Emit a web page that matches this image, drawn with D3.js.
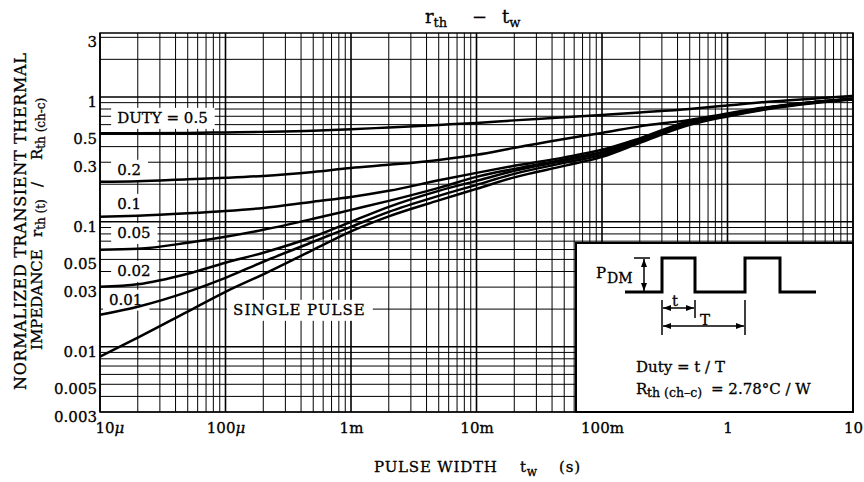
<!DOCTYPE html>
<html>
<head>
<meta charset="utf-8">
<script src="https://cdn.jsdelivr.net/npm/d3@7"></script>
<style>
  body { margin: 0; background: #fff; }
  svg { display: block; font-family: "DejaVu Serif", "Liberation Serif", serif; }
  svg text { stroke: #000; stroke-width: 0.3px; }
</style>
</head>
<body>
<svg id="chart" width="864" height="482"></svg>
<script>
// pulse width t_w (s)
const pulseWidth = [1e-5, 2e-5, 5e-5, 1e-4, 2e-4, 5e-4, 1e-3, 2e-3, 5e-3, 1e-2, 2e-2, 5e-2, 0.1, 0.2, 0.5, 1, 2, 5, 10];

// normalized transient thermal impedance, one array per duty
const rthDuty05  = [0.511, 0.512, 0.515, 0.520, 0.525, 0.535, 0.550, 0.570, 0.597, 0.619, 0.649, 0.686, 0.718, 0.752, 0.802, 0.855, 0.912, 0.973, 1.02];
const rthDuty02  = [0.209, 0.211, 0.219, 0.225, 0.233, 0.251, 0.270, 0.286, 0.313, 0.344, 0.391, 0.461, 0.515, 0.581, 0.655, 0.738, 0.824, 0.912, 0.964];
const rthDuty01  = [0.110, 0.112, 0.117, 0.122, 0.129, 0.145, 0.158, 0.177, 0.2148, 0.2466, 0.281, 0.328, 0.377, 0.466, 0.643, 0.724, 0.817, 0.912, 0.964];
const rthDuty005 = [0.0597, 0.0608, 0.068, 0.0759, 0.0863, 0.1057, 0.1247, 0.1472, 0.1871, 0.2291, 0.2655, 0.3162, 0.3631, 0.4571, 0.6252, 0.7178, 0.8166, 0.912, 0.964];
const rthDuty002 = [0.0302, 0.0316, 0.0384, 0.047, 0.0565, 0.0759, 0.100, 0.1318, 0.1770, 0.2128, 0.2559, 0.3076, 0.3565, 0.4487, 0.6138, 0.7112, 0.8091, 0.912, 0.964];
const rthDuty001 = [0.018, 0.0209, 0.0275, 0.0356, 0.0479, 0.0692, 0.0912, 0.1202, 0.1614, 0.1977, 0.2421, 0.2965, 0.3436, 0.4406, 0.6081, 0.7047, 0.8017, 0.9036, 0.964];
const rthSingle  = [0.00832, 0.0118, 0.0191, 0.0275, 0.038, 0.0597, 0.0839, 0.1107, 0.1486, 0.1837, 0.2270, 0.2805, 0.3311, 0.4285, 0.597, 0.6982, 0.7943, 0.8954, 0.955];

const curveLabels = ['DUTY = 0.5', '0.2', '0.1', '0.05', '0.02', '0.01', 'SINGLE PULSE'];

const xTicks = [1e-5, 1e-4, 1e-3, 1e-2, 1e-1, 1, 10];
const xTickLabels = ['10μ', '100μ', '1m', '10m', '100m', '1', '10'];
const yTicks = [3, 1, 0.5, 0.3, 0.1, 0.05, 0.03, 0.01, 0.005, 0.003];
const yTickLabels = ['3', '1', '0.5', '0.3', '0.1', '0.05', '0.03', '0.01', '0.005', '0.003'];

const svg = d3.select('#chart');

const x = d3.scaleLog().domain([1e-5, 10]).range([100, 853]);
const y = d3.scaleLog().domain([0.003, 3.25]).range([412, 33]);

const isDecade = d => Math.abs(Math.log10(d) - Math.round(Math.log10(d))) < 1e-6;

// grid
const grid = svg.append('g').attr('stroke', '#000');
grid.selectAll('line.v')
    .data(x.ticks())
    .join('line')
    .attr('class', 'v')
    .attr('x1', d => x(d)).attr('x2', d => x(d))
    .attr('y1', y.range()[0]).attr('y2', y.range()[1])
    .attr('stroke-width', d => isDecade(d) ? 1.6 : 1);
grid.selectAll('line.h')
    .data(y.ticks())
    .join('line')
    .attr('class', 'h')
    .attr('y1', d => y(d)).attr('y2', d => y(d))
    .attr('x1', x.range()[0]).attr('x2', x.range()[1])
    .attr('stroke-width', d => isDecade(d) ? 1.6 : 1);

// axes (labels only)
const xAxis = svg.append('g')
    .attr('transform', `translate(0,${y.range()[0]})`)
    .call(d3.axisBottom(x).tickValues(xTicks).tickFormat((d, i) => xTickLabels[i]).tickSize(0).tickPadding(10));
xAxis.select('.domain').remove();
xAxis.attr('font-size', 15).attr('font-family', null);
xAxis.selectAll('text').each(function(d, i) {
    const s = xTickLabels[i];
    if (s.endsWith('μ')) {
        const t = d3.select(this).text(s.slice(0, -1));
        t.append('tspan').attr('font-style', 'italic').text('μ');
    }
});
xAxis.select('.tick text').attr('text-anchor', 'start').attr('dx', -5);

const yAxis = svg.append('g')
    .attr('transform', `translate(${x.range()[0]},0)`)
    .call(d3.axisLeft(y).tickValues(yTicks).tickFormat((d, i) => yTickLabels[i]).tickSize(0).tickPadding(3));
yAxis.select('.domain').remove();
yAxis.attr('font-size', 15).attr('font-family', null);
yAxis.selectAll('text').attr('dy', '0.62em');

// curve labels with white backing
const labelPos = [[1.37e-5, 0.62], [1.37e-5, 0.238], [1.37e-5, 0.127], [1.37e-5, 0.0743], [1.37e-5, 0.0369], [1.18e-5, 0.0217], [1.15e-4, 0.018]];
const labels = svg.append('g').attr('font-size', 15);
curveLabels.forEach((s, i) => {
    const g = labels.append('g');
    const t = g.append('text')
        .attr('x', x(labelPos[i][0]))
        .attr('y', y(labelPos[i][1]))
        .attr('letter-spacing', i === 6 ? 1 : 0)
        .style('white-space', 'pre')
        .text(s);
    const bb = t.node().getBBox();
    g.insert('rect', 'text')
        .attr('x', bb.x - 6).attr('y', bb.y - 1)
        .attr('width', bb.width + 13).attr('height', bb.height + 3)
        .attr('fill', '#fff');
});

// curves
const line = d3.line()
    .x((d, i) => x(pulseWidth[i]))
    .y(d => y(d))
    .curve(d3.curveMonotoneX);
const series = [rthDuty05, rthDuty02, rthDuty01, rthDuty005, rthDuty002, rthDuty001, rthSingle];
svg.append('g').selectAll('path')
    .data(series)
    .join('path')
    .attr('d', line)
    .attr('fill', 'none')
    .attr('stroke', '#000')
    .attr('stroke-width', 2.5)
    .attr('stroke-linejoin', 'round');

// frame
svg.append('rect')
    .attr('x', x.range()[0]).attr('y', y.range()[1])
    .attr('width', x.range()[1] - x.range()[0])
    .attr('height', y.range()[0] - y.range()[1])
    .attr('fill', 'none').attr('stroke', '#000').attr('stroke-width', 1.5);

// inset with pulse diagram
const defs = svg.append('defs');
defs.append('marker')
    .attr('id', 'arr').attr('viewBox', '0 0 8 6')
    .attr('refX', 8).attr('refY', 3)
    .attr('markerWidth', 8).attr('markerHeight', 6)
    .attr('markerUnits', 'userSpaceOnUse')
    .attr('orient', 'auto-start-reverse')
    .append('path').attr('d', 'M0,0L8,3L0,6Z').attr('fill', '#000');

const inset = svg.append('g').attr('transform', 'translate(576,243)');
inset.append('rect')
    .attr('width', x.range()[1] - 576).attr('height', y.range()[0] - 243)
    .attr('fill', '#fff').attr('stroke', '#000').attr('stroke-width', 2);
inset.append('path')
    .attr('d', 'M49,49H86V15H119V49H169V15H204V49H240')
    .attr('fill', 'none').attr('stroke', '#000').attr('stroke-width', 3);
inset.append('path').attr('d', 'M58,15H74').attr('stroke', '#000').attr('stroke-width', 1.5);
inset.append('path')
    .attr('d', 'M68,16V48').attr('stroke', '#000').attr('stroke-width', 1.5)
    .attr('marker-start', 'url(#arr)').attr('marker-end', 'url(#arr)');
inset.append('path')
    .attr('d', 'M86,57V92M119,57V75M169,57V92')
    .attr('stroke', '#000').attr('stroke-width', 1.5);
inset.append('path')
    .attr('d', 'M87,65H118').attr('stroke', '#000').attr('stroke-width', 1.5)
    .attr('marker-start', 'url(#arr)').attr('marker-end', 'url(#arr)');
inset.append('path')
    .attr('d', 'M87,83H168').attr('stroke', '#000').attr('stroke-width', 1.5)
    .attr('marker-start', 'url(#arr)').attr('marker-end', 'url(#arr)');

const it = inset.append('g').attr('font-size', 15);
const pdm = it.append('text').attr('x', 20).attr('y', 35);
pdm.append('tspan').text('P');
pdm.append('tspan').attr('x', 31).attr('y', 40).attr('font-size', 14).text('DM');
it.append('text').attr('x', 96).attr('y', 63).text('t');
it.append('text').attr('x', 124).attr('y', 82).text('T');
it.append('text').attr('x', 60).attr('y', 129).style('white-space', 'pre').text('Duty = t / T');
const rth = it.append('text').attr('x', 60).attr('y', 151).style('white-space', 'pre');
rth.append('tspan').text('R');
rth.append('tspan').attr('x', 71).attr('y', 154).attr('font-size', 12.5).text('th (ch–c)');
rth.append('tspan').attr('x', 135).attr('y', 151).text('= 2.78°C / W');

// title
const title = svg.append('text').attr('x', 425).attr('y', 23).attr('font-size', 18);
title.append('tspan').text('r');
title.append('tspan').attr('font-size', 13).attr('dy', 4).text('th');
title.append('tspan').attr('x', 472).attr('dy', -4).text('−');
title.append('tspan').attr('x', 502).text('t');
title.append('tspan').attr('font-size', 13).attr('dy', 4).text('w');

// x axis title
const xt = svg.append('text').attr('x', 374).attr('y', 472).attr('font-size', 15).attr('letter-spacing', 0.8);
xt.append('tspan').text('PULSE WIDTH');
xt.append('tspan').attr('x', 520).text('t');
xt.append('tspan').attr('font-size', 12).attr('dy', 4).text('w');
xt.append('tspan').attr('x', 559).attr('dy', -4).text('(s)');

// y axis title, two rotated lines
svg.append('text')
    .attr('transform', 'translate(26,221.5) rotate(-90)')
    .attr('text-anchor', 'middle')
    .attr('font-size', 16)
    .attr('textLength', 337).attr('lengthAdjust', 'spacing')
    .text('NORMALIZED TRANSIENT THERMAL');
const yt = svg.append('text')
    .attr('transform', 'translate(42,350) rotate(-90)')
    .attr('font-size', 15);
yt.append('tspan').attr('x', 0).text('IMPEDANCE');
yt.append('tspan').attr('x', 113).text('r');
yt.append('tspan').attr('font-size', 12).attr('dy', 3).style('white-space', 'pre').text('th (t)');
yt.append('tspan').attr('x', 163).attr('dy', -3).text('/');
yt.append('tspan').attr('x', 190).text('R');
yt.append('tspan').attr('font-size', 12).attr('dy', 3).style('white-space', 'pre').text('th (ch-c)');
</script>
</body>
</html>
